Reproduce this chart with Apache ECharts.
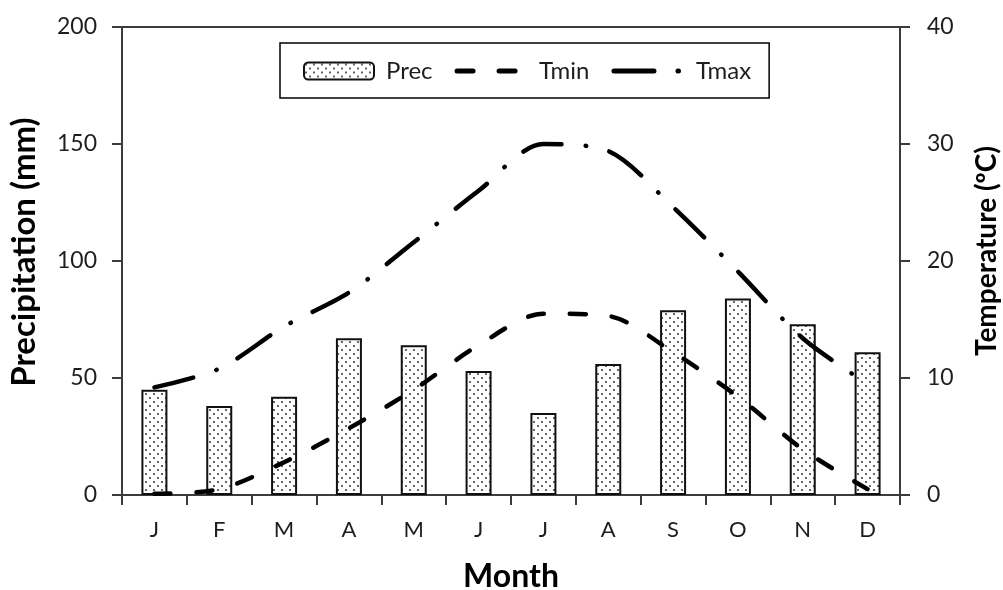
<!DOCTYPE html>
<html>
<head>
<meta charset="utf-8">
<script src="https://cdn.jsdelivr.net/npm/echarts@6/dist/echarts.min.js"></script>
<style>
  html, body { margin: 0; padding: 0; background: #fff; }
  #chart { width: 1003px; height: 590px; }
</style>
</head>
<body>
<div id="chart"></div>
<script>
// Monthly climate data
const months = ['J', 'F', 'M', 'A', 'M', 'J', 'J', 'A', 'S', 'O', 'N', 'D'];
const prec = [45, 38, 42, 67, 64, 53, 35, 56, 79, 84, 73, 61];          // mm
const tmin = [0.1, 0.5, 2.8, 5.7, 9.0, 12.8, 15.5, 15.3, 12.2, 8.4, 3.9, 0.5]; // ºC
const tmax = [9.2, 10.8, 14.4, 17.3, 21.6, 26.0, 30.0, 29.4, 24.6, 19.1, 13.4, 9.5]; // ºC
const precTicks = [0, 50, 100, 150, 200];
const tempTicks = [0, 10, 20, 30, 40];

// Dotted fill for the precipitation bars
function dotPattern() {
  const c = document.createElement('canvas');
  c.width = 8; c.height = 8;
  const g = c.getContext('2d');
  g.fillStyle = '#fff';
  g.fillRect(0, 0, 8, 8);
  g.fillStyle = '#444';
  [[2, 2], [6, 6]].forEach(([x, y]) => {
    g.beginPath(); g.arc(x, y, 1.1, 0, Math.PI * 2); g.fill();
  });
  return c;
}

const FONT = 'Lato, "Open Sans", sans-serif';
const TXT = '#1e1e1e';
const AX = '#3c3c3c';

const TMIN_DASH = [16, 26];
const TMAX_DASH = [40, 24, 0.5, 24];

const chart = echarts.init(document.getElementById('chart'), null, { renderer: 'canvas' });

const axisBase = {
  axisLine: { show: true, lineStyle: { color: AX, width: 2 } },
  axisTick: { show: true, length: 10, lineStyle: { color: AX, width: 2 } },
  splitLine: { show: false },
  nameLocation: 'middle',
  axisLabel: { fontFamily: FONT, fontSize: 23, color: TXT }
};

const hiddenSymbol = { opacity: 0 };

chart.setOption({
  animation: false,
  backgroundColor: '#fff',
  grid: {
    left: 122, right: 103, top: 27, bottom: 95,
    outerBoundsMode: 'none',
    containLabel: false,
    show: true, borderColor: AX, borderWidth: 2, backgroundColor: 'transparent'
  },
  legend: {
    left: 280, top: 43,
    padding: [16, 18, 15, 23],
    itemGap: 22,
    itemWidth: 70, itemHeight: 17,
    borderColor: '#000', borderWidth: 1.5,
    backgroundColor: '#fff',
    textStyle: { fontFamily: FONT, fontSize: 24, color: TXT, padding: [0, 0, 0, 7] },
    data: [
      { name: 'Prec' },
      { name: 'Tmin', itemStyle: hiddenSymbol,
        lineStyle: { color: '#000', width: 5, type: TMIN_DASH, cap: 'round' } },
      { name: 'Tmax', itemStyle: hiddenSymbol,
        lineStyle: { color: '#000', width: 5, type: TMAX_DASH, cap: 'round' } }
    ]
  },
  xAxis: {
    ...axisBase,
    type: 'category',
    data: months,
    name: 'Month',
    nameGap: 66,
    nameTextStyle: { fontFamily: FONT, fontWeight: 'bold', fontSize: 32, color: '#000' },
    axisTick: { show: true, length: 10, alignWithLabel: false, lineStyle: { color: AX, width: 2 } },
    axisLabel: { fontFamily: FONT, fontSize: 22, color: TXT, margin: 24 }
  },
  yAxis: [
    {
      ...axisBase,
      type: 'value',
      position: 'left',
      min: precTicks[0], max: precTicks[precTicks.length - 1], interval: 50,
      name: 'Precipitation (mm)',
      nameGap: 81,
      nameTextStyle: { fontFamily: FONT, fontWeight: 'bold', fontSize: 33, color: '#000', padding: [0, 0, 0, 18] },
      axisLabel: { fontFamily: FONT, fontSize: 23, color: TXT, margin: 25 }
    },
    {
      ...axisBase,
      type: 'value',
      position: 'right',
      min: tempTicks[0], max: tempTicks[tempTicks.length - 1], interval: 10,
      name: 'Temperature (ºC)',
      nameGap: 73,
      nameRotate: 90,
      nameTextStyle: { fontFamily: FONT, fontWeight: 'bold', fontSize: 28, color: '#000', padding: [0, 0, 0, 20] },
      axisLabel: { fontFamily: FONT, fontSize: 23, color: TXT, margin: 27 }
    }
  ],
  series: [
    {
      name: 'Prec',
      type: 'bar',
      yAxisIndex: 0,
      data: prec,
      barWidth: 26,
      itemStyle: {
        color: { image: dotPattern(), repeat: 'repeat' },
        borderColor: '#111',
        borderWidth: 2
      },
      z: 2
    },
    {
      name: 'Tmin',
      type: 'line',
      yAxisIndex: 1,
      data: tmin,
      smooth: 0.3,
      symbol: 'none',
      lineStyle: { color: '#000', width: 4.5, type: TMIN_DASH, cap: 'round', join: 'round' },
      z: 3
    },
    {
      name: 'Tmax',
      type: 'line',
      yAxisIndex: 1,
      data: tmax,
      smooth: 0.3,
      symbol: 'none',
      lineStyle: { color: '#000', width: 4.5, type: TMAX_DASH, cap: 'round', join: 'round' },
      z: 3
    }
  ]
});
</script>
</body>
</html>
